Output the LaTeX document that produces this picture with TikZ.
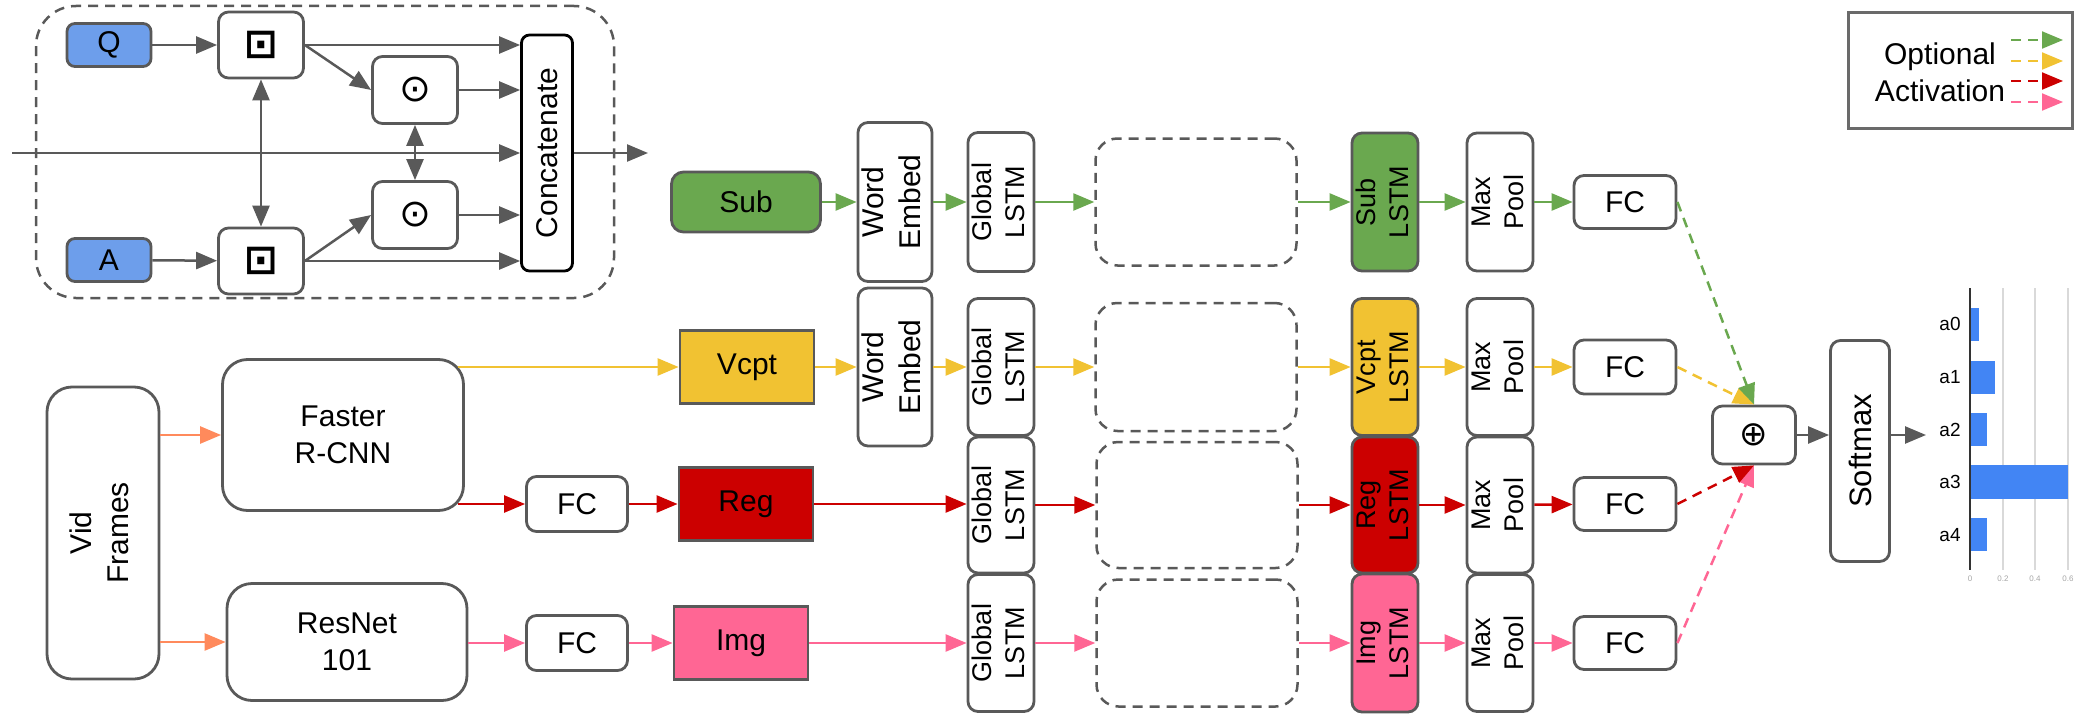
\documentclass[tikz,border=0pt]{standalone}
\usepackage{fontspec}
\setmainfont{Liberation Sans}
\newfontfamily\symf{DejaVu Sans}
\usetikzlibrary{arrows.meta}
\definecolor{bd}{HTML}{595959}
\definecolor{qblue}{HTML}{6D9EEB}
\definecolor{gr}{HTML}{6AA84F}
\definecolor{ye}{HTML}{F1C232}
\definecolor{rd}{HTML}{CC0000}
\definecolor{pk}{HTML}{FF6694}
\definecolor{og}{HTML}{FF8A5C}
\definecolor{barc}{HTML}{4285F4}
\definecolor{gridc}{HTML}{D9D9D9}
\newcommand{\vt}[1]{\rotatebox{90}{\begin{tabular}{@{}c@{}}#1\end{tabular}}}
\tikzset{
  bx/.style={draw=bd, line width=2.8pt, rounded corners=10pt, inner sep=0pt, align=center,
    font=\fontsize{30}{37}\selectfont},
  bigbx/.style={bx, rounded corners=25pt},
  sq/.style={bx, rounded corners=0pt},
  dbox/.style={draw=bd, line width=2.5pt, rounded corners=22pt, dash pattern=on 10pt off 7pt, inner sep=0pt},
  sm27/.style={font=\fontsize{27}{33}\selectfont},
  boxdotf/.style={font=\fontsize{40}{44}\selectfont\symf\bfseries},
  odotf/.style={font=\fontsize{38}{42}\selectfont\symf},
  ar/.style={-{Triangle[length=21pt,width=17pt]}, line width=2.5pt, color=bd},
  dar/.style={{Triangle[length=21pt,width=17pt]}-{Triangle[length=21pt,width=17pt]}, line width=2.5pt, color=bd},
  opt/.style={ar, dash pattern=on 10pt off 7pt},
}
\begin{document}
\begin{tikzpicture}[x=1pt,y=-1pt]
\useasboundingbox (0,0) rectangle (2074,725);
% ---------- attention module ----------
\node[dbox, rounded corners=40pt, minimum width=578, minimum height=292] (mod) at (325,152) {};
\node[bx, fill=qblue, rounded corners=8pt, minimum width=84, minimum height=43] (q) at (109,45) {Q};
\node[bx, fill=qblue, rounded corners=8pt, minimum width=84, minimum height=43] (a) at (109,260) {A};
\node[bx, boxdotf, minimum width=85, minimum height=66] (bq) at (261,45) {⊡};
\node[bx, boxdotf, minimum width=85, minimum height=66] (ba) at (261,261) {⊡};
\node[bx, odotf, minimum width=85, minimum height=67] (oq) at (415,90) {⊙};
\node[bx, odotf, minimum width=85, minimum height=67] (oa) at (415,215) {⊙};
\node[bx, draw=black, rounded corners=8pt, minimum width=51, minimum height=236] (cc) at (547,153) {\rotatebox{90}{Concatenate}};
\coordinate (in) at (12,153);
\coordinate (out) at (648,153);
\draw[ar] (q) -- (bq);
\draw[ar] (a) -- (ba);
\draw[ar] (bq.east) -- (bq.east -| cc.west);
\draw[ar] (bq.east) -- (oq.west);
\draw[ar] (oq.east) -- (oq.east -| cc.west);
\draw[ar] (in) -- (cc.west);
\draw[ar] (oa.east) -- (oa.east -| cc.west);
\draw[ar] (ba.east) -- (ba.east -| cc.west);
\draw[ar] (ba.east) -- (oa.west);
\draw[dar] (bq) -- (ba);
\draw[dar] (oq) -- (oa);
\draw[ar] (cc.east) -- (out);
% ---------- left inputs ----------
\node[bigbx, minimum width=112, minimum height=292] (vid) at (103,533) {\vt{Vid\\Frames}};
\node[bigbx, minimum width=241, minimum height=151] (fr) at (343,435) {Faster\\R-CNN};
\node[bigbx, minimum width=240, minimum height=117] (rn) at (347,642) {ResNet\\101};
\node[bx, minimum width=101, minimum height=55] (fca) at (577,504) {FC};
\node[bx, minimum width=101, minimum height=55] (fcb) at (577,643) {FC};
% ---------- row 1 (Sub) ----------
\node[bx, fill=gr, rounded corners=12pt, minimum width=149, minimum height=60] (sub) at (746,202) {Sub};
\node[bx, minimum width=65, minimum height=159] (we1) at (895,202) {\vt{Word\\Embed}};
\node[bx, sm27, minimum width=64, minimum height=139] (gl1) at (1001,202) {\vt{Global\\LSTM}};
\node[dbox, minimum width=201, minimum height=127] (d1) at (1196,202) {};
\node[bx, sm27, fill=gr, minimum width=64, minimum height=138] (l1) at (1385,202) {\vt{Sub\\LSTM}};
\node[bx, sm27, minimum width=65, minimum height=138] (mp1) at (1500,202) {\vt{Max\\Pool}};
\node[bx, minimum width=102, minimum height=53] (fc1) at (1625,202) {FC};
% ---------- row 2 (Vcpt) ----------
\node[sq, fill=ye, minimum width=134, minimum height=73] (vc) at (747,367) {Vcpt};
\node[bx, minimum width=65, minimum height=158] (we2) at (895,367) {\vt{Word\\Embed}};
\node[bx, sm27, minimum width=64, minimum height=137] (gl2) at (1001,367) {\vt{Global\\LSTM}};
\node[dbox, minimum width=201, minimum height=128] (d2) at (1196,367) {};
\node[bx, sm27, fill=ye, minimum width=64, minimum height=137] (l2) at (1385,367) {\vt{Vcpt\\LSTM}};
\node[bx, sm27, minimum width=65, minimum height=137] (mp2) at (1500,367) {\vt{Max\\Pool}};
\node[bx, minimum width=102, minimum height=54] (fc2) at (1625,367) {FC};
% ---------- row 3 (Reg) ----------
\node[sq, fill=rd, minimum width=134, minimum height=73] (rg) at (746,504) {Reg};
\node[bx, sm27, minimum width=64, minimum height=136] (gl3) at (1001,505) {\vt{Global\\LSTM}};
\node[dbox, minimum width=201, minimum height=126] (d3) at (1197,505) {};
\node[bx, sm27, fill=rd, minimum width=64, minimum height=136] (l3) at (1385,505) {\vt{Reg\\LSTM}};
\node[bx, sm27, minimum width=65, minimum height=136] (mp3) at (1500,505) {\vt{Max\\Pool}};
\node[bx, minimum width=102, minimum height=53] (fc3) at (1625,504) {FC};
% ---------- row 4 (Img) ----------
\node[sq, fill=pk, minimum width=134, minimum height=73] (im) at (741,643) {Img};
\node[bx, sm27, minimum width=64, minimum height=137] (gl4) at (1001,643) {\vt{Global\\LSTM}};
\node[dbox, minimum width=201, minimum height=127] (d4) at (1197,643) {};
\node[bx, sm27, fill=pk, minimum width=64, minimum height=138] (l4) at (1385,643) {\vt{Img\\LSTM}};
\node[bx, sm27, minimum width=65, minimum height=137] (mp4) at (1500,643) {\vt{Max\\Pool}};
\node[bx, minimum width=102, minimum height=53] (fc4) at (1625,643) {FC};
% ---------- fusion ----------
\node[bx, font=\fontsize{34}{38}\selectfont\symf, minimum width=83, minimum height=58] (plus) at (1754,435) {⊕};
\node[bx, font=\fontsize{31}{37}\selectfont, minimum width=59, minimum height=221] (sm) at (1860,451) {\rotatebox{90}{Softmax}};
\coordinate (smout) at (1926,435);
% ---------- connectors ----------
\draw[ar, color=og] (vid.east |- fr.west) -- (fr.west);
\draw[ar, color=og] (vid.east |- rn.west) -- (rn.west);
\draw[ar, color=gr] (sub) -- (we1);
\draw[ar, color=gr] (we1) -- (gl1);
\draw[ar, color=gr] (gl1) -- (d1);
\draw[ar, color=gr] (d1) -- (l1);
\draw[ar, color=gr] (l1) -- (mp1);
\draw[ar, color=gr] (mp1) -- (fc1);
\draw[ar, color=ye, shorten <=-7pt] (fr.east |- vc.west) -- (vc.west);
\draw[ar, color=ye] (vc) -- (we2);
\draw[ar, color=ye] (we2) -- (gl2);
\draw[ar, color=ye] (gl2) -- (d2);
\draw[ar, color=ye] (d2) -- (l2);
\draw[ar, color=ye] (l2) -- (mp2);
\draw[ar, color=ye] (mp2) -- (fc2);
\draw[ar, color=rd, shorten <=-7pt] (fr.east |- fca.west) -- (fca.west);
\draw[ar, color=rd] (fca) -- (rg);
\draw[ar, color=rd] (rg.east) -- (rg.east -| gl3.west);
\draw[ar, color=rd] (gl3) -- (d3);
\draw[ar, color=rd] (d3) -- (l3);
\draw[ar, color=rd] (l3) -- (mp3);
\draw[ar, color=rd] (mp3) -- (fc3);
\draw[ar, color=pk] (rn.east |- fcb.west) -- (fcb.west);
\draw[ar, color=pk] (fcb) -- (im);
\draw[ar, color=pk] (im.east) -- (im.east -| gl4.west);
\draw[ar, color=pk] (gl4) -- (d4);
\draw[ar, color=pk] (d4) -- (l4);
\draw[ar, color=pk] (l4) -- (mp4);
\draw[ar, color=pk] (mp4) -- (fc4);
\draw[opt, color=ye] (fc2.east) -- (plus.north);
\draw[opt, color=gr] (fc1.east) -- (plus.north);
\draw[opt, color=pk] (fc4.east) -- (plus.south);
\draw[opt, color=rd] (fc3.east) -- (plus.south);
\draw[ar] (plus.east) -- (plus.east -| sm.west);
\draw[ar] (sm.east |- smout) -- (smout);
% ---------- legend ----------
\node[draw=bd!90, line width=3pt, minimum width=224, minimum height=115, inner sep=0pt] (leg) at (1960,70.5) {};
\node[align=center, font=\fontsize{30}{37}\selectfont] (legt) at (1940,72) {Optional\\Activation};
\coordinate (g1) at (2011,40); \coordinate (g2) at (2063,40);
\coordinate (y1) at (2011,61); \coordinate (y2) at (2063,61);
\coordinate (r1) at (2011,81); \coordinate (r2) at (2063,81);
\coordinate (p1) at (2011,102); \coordinate (p2) at (2063,102);
\draw[opt, color=gr, line width=2pt] (g1) -- (g2);
\draw[opt, color=ye, line width=2pt] (y1) -- (y2);
\draw[opt, color=rd, line width=2pt] (r1) -- (r2);
\draw[opt, color=pk, line width=2pt] (p1) -- (p2);
% ---------- bar chart ----------
\foreach \gx in {2003,2035,2068} \draw[gridc, line width=1.2pt] (\gx,288) -- (\gx,570);
\fill[barc] (1970,308) rectangle (1979,341);
\fill[barc] (1970,361) rectangle (1995,394);
\fill[barc] (1970,413) rectangle (1987,446);
\fill[barc] (1970,465) rectangle (2068,499);
\fill[barc] (1970,518) rectangle (1987,551);
\draw[color=black!80, line width=1.5pt] (1970,288) -- (1970,570);
\foreach \lab/\ly in {a0/324,a1/377,a2/430,a3/482,a4/535}
  \node[font=\fontsize{19}{22}\selectfont] (lab\lab) at (1950,\ly) {\lab};
\foreach \tx/\tl in {1970/0,2003/0.2,2035/0.4,2068/0.6}
  \node[font=\fontsize{8}{10}\selectfont, text=black!35] (tick\tx) at (\tx,579) {\tl};
\end{tikzpicture}
\end{document}
